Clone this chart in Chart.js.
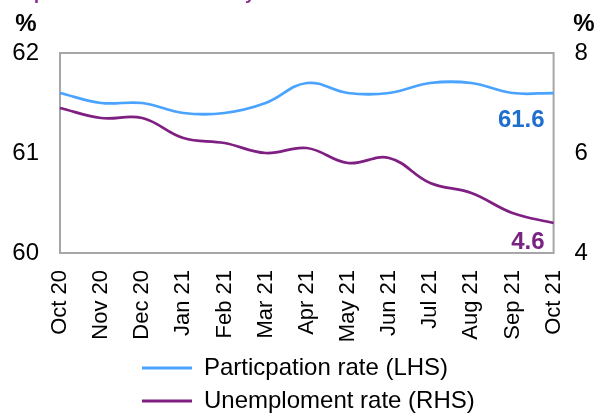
<!DOCTYPE html>
<html>
<head>
<meta charset="utf-8">
<script src="https://cdn.jsdelivr.net/npm/chart.js@4.4.0/dist/chart.umd.min.js"></script>
<style>
    html, body { margin: 0; padding: 0; background: #fff; }
</style>
</head>
<body>
<canvas id="lineChart" width="597" height="414"></canvas>
<script>
const labels = ["Oct 20", "Nov 20", "Dec 20", "Jan 21", "Feb 21", "Mar 21", "Apr 21",
    "May 21", "Jun 21", "Jul 21", "Aug 21", "Sep 21", "Oct 21"]

// participation rate, LHS (%)
const participation = [61.6, 61.5, 61.5, 61.4, 61.4, 61.5, 61.7, 61.6, 61.6, 61.7, 61.7, 61.6, 61.6]
// unemployment rate, RHS (%)
const unemployment = [6.9, 6.7, 6.7, 6.3, 6.2, 6.0, 6.1, 5.8, 5.9, 5.4, 5.2, 4.8, 4.6]

const leftTicks = [60, 61, 62]
const rightTicks = [4, 6, 8]

const title = "Graph 3: Labour force survey results"

const font = "Arial, 'Liberation Sans', sans-serif"
Chart.defaults.font.family = font
Chart.defaults.color = "#000"

const blue = "#4aa3ff"
const purple = "#7f1f82"

// plot frame, cut-off title, % units and end labels
const extras = {
    id: "extras",
    afterLayout(chart) {
        chart.legend.top = 347
        chart.legend.left = 133
    },
    beforeDatasetsDraw(chart) {
        const { ctx, chartArea: a } = chart
        ctx.save()
        ctx.strokeStyle = "#a6a6a6"
        ctx.lineWidth = 2
        ctx.strokeRect(a.left, a.top, a.right - a.left, a.bottom - a.top)
        ctx.restore()
    },
    afterDatasetsDraw(chart) {
        const ctx = chart.ctx
        ctx.save()
        ctx.font = "bold 18px " + font
        ctx.fillStyle = "#8b2b8f"
        ctx.textBaseline = "alphabetic"
        ctx.textAlign = "left"
        ctx.fillText(title, 3, -1)

        ctx.font = "bold 24px " + font
        ctx.fillStyle = "#000"
        ctx.textAlign = "center"
        ctx.textBaseline = "middle"
        ctx.fillText("%", 26, 24)
        ctx.fillText("%", 584, 24)

        const last = labels.length - 1
        const p1 = chart.getDatasetMeta(0).data[last]
        const p2 = chart.getDatasetMeta(1).data[last]
        ctx.textAlign = "right"
        ctx.fillStyle = "#1f6fcf"
        ctx.fillText(participation[last].toFixed(1), p1.x - 9, p1.y + 27)
        ctx.fillStyle = "#7b2382"
        ctx.fillText(unemployment[last].toFixed(1), p2.x - 9, p2.y + 19)
        ctx.restore()
    }
}

new Chart(document.getElementById("lineChart"), {
    type: "line",
    data: {
        labels: labels,
        datasets: [
            {
                label: "Particpation rate (LHS)",
                data: participation,
                borderColor: blue,
                backgroundColor: blue,
                borderWidth: 2.75,
                tension: 0.4,
                pointRadius: 0,
                yAxisID: "y"
            },
            {
                label: "Unemploment rate (RHS)",
                data: unemployment,
                borderColor: purple,
                backgroundColor: purple,
                borderWidth: 2.75,
                tension: 0.4,
                pointRadius: 0,
                yAxisID: "y1"
            }
        ]
    },
    options: {
        responsive: false,
        animation: false,
        layout: { padding: { top: 53, left: 0, right: 0, bottom: -30 } },
        plugins: {
            tooltip: { enabled: false },
            legend: {
                position: "bottom",
                align: "start",
                labels: {
                    boxWidth: 50,
                    boxHeight: 3,
                    padding: 9,
                    font: { size: 24 },
                    color: "#000",
                    generateLabels: c => Chart.defaults.plugins.legend.labels.generateLabels(c)
                        .map(l => ({ ...l, lineWidth: 0, fillStyle: l.strokeStyle }))
                }
            }
        },
        scales: {
            x: {
                grid: { display: false, drawTicks: false },
                border: { display: false },
                ticks: { minRotation: 90, maxRotation: 90, padding: 17, font: { size: 22 } },
                afterFit(s) { s.height = 414 + 30 - 253 - s.chart.legend.height }
            },
            y: {
                position: "left",
                min: leftTicks[0],
                max: leftTicks[leftTicks.length - 1],
                grid: { display: false, drawTicks: false },
                border: { display: false },
                ticks: { stepSize: leftTicks[1] - leftTicks[0], padding: 21, font: { size: 24 } },
                afterFit(s) { s.width = 60 }
            },
            y1: {
                position: "right",
                min: rightTicks[0],
                max: rightTicks[rightTicks.length - 1],
                grid: { display: false, drawTicks: false },
                border: { display: false },
                ticks: { stepSize: rightTicks[1] - rightTicks[0], padding: 21, font: { size: 24 } },
                afterFit(s) { s.width = 43 }
            }
        }
    },
    plugins: [extras]
})
</script>
</body>
</html>
